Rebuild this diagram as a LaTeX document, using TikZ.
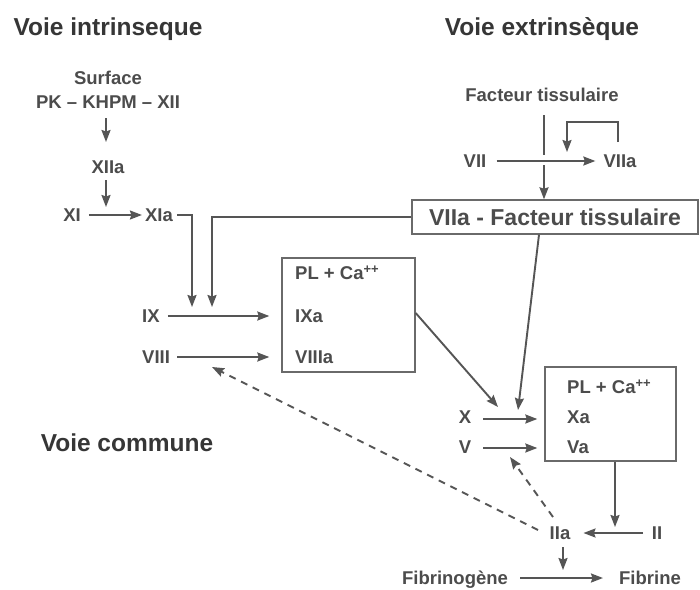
\documentclass[tikz,border=0pt]{standalone}
\usepackage{fontspec}
\setmainfont{Liberation Sans}
\usetikzlibrary{arrows.meta}
\definecolor{txt}{HTML}{4c4c4c}
\definecolor{ttl}{HTML}{363636}
\definecolor{ln}{HTML}{555555}
\definecolor{bx}{HTML}{6a6a6a}
\tikzset{
  title/.style={font=\fontsize{24.5}{24.5}\selectfont\bfseries, text=ttl, inner sep=0pt, text height=17.5pt, text depth=0pt},
  lab/.style={font=\fontsize{18.5}{18.5}\selectfont\bfseries, text=txt, inner sep=0pt, text height=13.2pt, text depth=0pt},
  biglab/.style={font=\fontsize{23}{23}\selectfont\bfseries, text=txt, inner sep=0pt, text height=16.5pt, text depth=0pt},
  boxstyle/.style={draw=bx, line width=1.4pt, inner sep=0pt},
  arr/.style={draw=ln, line width=1.9pt, -{Stealth[length=12pt,width=9pt,inset=1.5pt]}},
  plain/.style={draw=ln, line width=1.9pt},
  darr/.style={arr, dash pattern=on 7pt off 6pt}
}
\begin{document}
\begin{tikzpicture}[x=1pt,y=-1pt]
\useasboundingbox[fill=white] (0,0) rectangle (700,589);

% titles
\node[title] (t1) at (108,27) {Voie intrinseque};
\node[title] (t2) at (542,27) {Voie extrinsèque};
\node[title] (t3) at (127,443) {Voie commune};

% intrinsic
\node[lab] (surf) at (108,78) {Surface};
\node[lab] (pk) at (108,102) {PK – KHPM – XII};
\node[lab] (xiia) at (108,167) {XIIa};
\node[lab] (xi) at (72,215) {XI};
\node[lab] (xia) at (159,215) {XIa};

% extrinsic
\node[lab] (ft) at (542,95) {Facteur tissulaire};
\node[lab] (vii) at (475,161) {VII};
\node[lab] (viia) at (620,161) {VIIa};
\node[boxstyle, biglab, minimum width=286pt, minimum height=34pt] (vf) at (555,217) {VIIa - Facteur tissulaire};

% tenase
\node[boxstyle, minimum width=133pt, minimum height=114pt] (box1) at (348.5,315) {};
\node[lab, anchor=west] (pl1) at (295,273) {PL + Ca\textsuperscript{++}};
\node[lab, anchor=west] (ixa) at (295,316) {IXa};
\node[lab, anchor=west] (viiia) at (295,357) {VIIIa};
\node[lab, anchor=west] (ix) at (142,316) {IX};
\node[lab, anchor=west] (viii) at (142,357) {VIII};

% prothrombinase
\node[boxstyle, minimum width=131pt, minimum height=94pt] (box2) at (610.5,414) {};
\node[lab, anchor=west] (pl2) at (567,387) {PL + Ca\textsuperscript{++}};
\node[lab, anchor=west] (xa) at (567,417) {Xa};
\node[lab, anchor=west] (va) at (567,447) {Va};
\node[lab] (x) at (465,417) {X};
\node[lab] (v) at (465,447) {V};

% common
\node[lab] (iia) at (560,533) {IIa};
\node[lab] (ii) at (657,533) {II};
\node[lab] (fg) at (455,578) {Fibrinogène};
\node[lab] (fb) at (650,578) {Fibrine};

% helper coordinates (free ends)
\coordinate (jx) at (544,161);
\coordinate (xjoin) at (106,215);
\coordinate (ixin1) at (192,307);
\coordinate (ixin2) at (212,307);
\coordinate (xtip) at (498,407);
\coordinate (xtip2) at (518,410);
\coordinate (iiajoin) at (615,533);
\coordinate (fgjoin) at (563,578);
\coordinate (viiiarr) at (212,367);
\coordinate (varr) at (510,457);

% intrinsic arrows
\draw[arr] ([shift={(-2,16)}]pk.center) -- ([shift={(-2,-25)}]xiia.center);
\draw[arr] ([shift={(-2,13)}]xiia.center) -- ([shift={(0,-8)}]xjoin);
\draw[arr] ([shift={(8,0)}]xi.east) -- ([shift={(-3,0)}]xia.west);
\draw[arr] ([shift={(4,0)}]xia.east) -| (ixin1);
\draw[arr] (vf.west) -| (ixin2);
\draw[arr] ([shift={(8,0)}]ix.east) -- ([shift={(-12,1)}]box1.west);
\draw[arr] ([shift={(7,0)}]viii.east) -- ([shift={(-12,42)}]box1.west);

% extrinsic arrows
\draw[plain] ([shift={(2,20)}]ft.center) -- ([shift={(0,-6)}]jx);
\draw[arr] ([shift={(0,4)}]jx) -- (vf.north -| jx);
\draw[arr] ([shift={(10,0)}]vii.east) -- ([shift={(-8,0)}]viia.west);
\draw[arr] ([shift={(-2,-19)}]viia.center) |- (567,122) -- (567,152);

% to Xa / Va
\draw[arr] ([shift={(0,-2)}]box1.east) -- (xtip);
\draw[arr] ([shift={(-16,0)}]vf.south) -- (xtip2);
\draw[arr] ([shift={(18,2)}]x.center) -- ([shift={(-7,5)}]box2.west);
\draw[arr] ([shift={(18,1)}]v.center) -- ([shift={(-7,34)}]box2.west);

% common pathway
\draw[arr] (box2.south -| iiajoin) -- ([shift={(0,-6)}]iiajoin);
\draw[arr] ([shift={(-14,0)}]ii.center) -- ([shift={(13,0)}]iia.east);
\draw[arr] ([shift={(3,14)}]iia.center) -- ([shift={(0,-8)}]fgjoin);
\draw[arr] ([shift={(12,0)}]fg.east) -- ([shift={(-16,0)}]fb.west);

% feedback (dashed)
\draw[darr] ([shift={(-22,-3)}]iia.center) -- (viiiarr);
\draw[darr] ([shift={(-7,-16)}]iia.center) -- (varr);
\end{tikzpicture}
\end{document}
